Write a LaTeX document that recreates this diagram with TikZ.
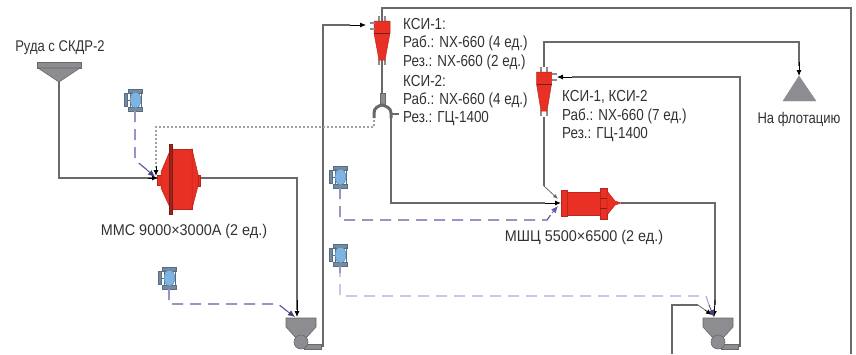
\documentclass[tikz,border=0pt]{standalone}
\usepackage{fontspec}
\setmainfont[FakeStretch=0.84]{Liberation Sans}
\newfontfamily\widefont[FakeStretch=0.93]{Liberation Sans}
\usetikzlibrary{arrows.meta}
\definecolor{pipe}{RGB}{105,105,108}
\definecolor{millred}{RGB}{232,48,36}
\definecolor{milledge}{RGB}{120,30,25}
\definecolor{hoppergray}{RGB}{140,140,145}
\definecolor{dotgray}{RGB}{160,160,163}
\definecolor{valveblue}{RGB}{125,180,225}
\definecolor{valvesteel}{RGB}{85,110,135}
\definecolor{waterblue}{RGB}{95,90,170}
\definecolor{waterpale}{RGB}{175,170,218}
\definecolor{labelgray}{RGB}{50,50,50}
\tikzset{
  pipeline/.style={draw=pipe, line width=1.4pt},
  thinline/.style={draw=pipe, line width=0.8pt},
  tipline/.style={black, line width=0.8pt, -{Latex[length=6pt,width=5pt]}},
  waterline/.style={draw=waterblue, line width=1.2pt, dash pattern=on 11pt off 7pt},
  paleline/.style={waterline, draw=waterpale},
  watertip/.style={draw=waterblue!70!black, line width=0.8pt, -{Latex[length=7pt,width=6pt]}},
  dotline/.style={draw=dotgray, line width=2pt, dash pattern=on 1.8pt off 2.2pt},
  redpart/.style={fill=millred, draw=millred!80!black, line width=0.5pt},
  graypart/.style={fill=hoppergray, draw=pipe, line width=0.6pt},
  label/.style={text=labelgray, font=\fontsize{15.5}{17}\selectfont, inner sep=0pt},
  widelabel/.style={label, font=\widefont\fontsize{15.5}{17}\selectfont},
  textline/.style={label, font=\fontsize{16}{17}\selectfont, anchor=west}
}
\begin{document}
\begin{tikzpicture}[x=1pt, y=-1pt]
\useasboundingbox (0, 0) rectangle (856, 354);
% ports of the equipment
\coordinate (ore) at (59, 82);
\coordinate (millin) at (158, 178);
\coordinate (millout) at (200, 178);
\coordinate (pumpa) at (297, 317);
\coordinate (pumpaout) at (323, 347);
\coordinate (cycin) at (366, 25);
\coordinate (cycover) at (382, 21);
\coordinate (cycspig) at (382, 60);
\coordinate (cycunder) at (382, 95);
\coordinate (splitl) at (374, 118);
\coordinate (splitr) at (391, 118);
\coordinate (ballin) at (561, 203);
\coordinate (ballout) at (621, 203);
\coordinate (cyctop) at (544, 67);
\coordinate (cycfeed) at (557, 77);
\coordinate (cycbot) at (544, 117);
\coordinate (pumpb) at (714, 317);
\coordinate (pumpbout) at (740, 347);
\coordinate (flot) at (799, 76);
% lines
\draw[pipeline] (ore) -- (59, 178) -- (millin);
\draw[tipline, line width=1pt] (148, 178) -- (millin);
\draw[pipeline] (millout) -- (297, 178) -- (297, 310);
\draw[tipline] (297, 300) -- (pumpa);
\draw[pipeline] (pumpaout) -- (323, 25) -- (350, 25);
\draw[tipline] (350, 25) -- (cycin);
\draw[pipeline] (cycover) -- (382, 8) -- (851, 8) -- (851, 354);
\draw[pipeline] (cycspig) -- (cycunder);
\draw[pipeline] (splitr) -- (391, 203) -- (545, 203);
\draw[tipline, line width=1pt] (545, 203) -- (ballin);
\draw[pipeline] (cycbot) -- (544, 186);
\draw[thinline, -{Latex[length=5pt,width=4pt]}] (544, 186) -- (558, 199);
\draw[pipeline] (ballout) -- (715, 203) -- (715, 305);
\draw[tipline] (715, 300) -- (pumpb);
\draw[pipeline] (672, 354) -- (672, 305) -- (698, 305);
\draw[thinline] (698, 305) -- (705, 310);
\draw[tipline] (705, 310) -- (712, 315);
\draw[pipeline] (pumpbout) -- (740, 77) -- (572, 77);
\draw[tipline] (572, 77) -- (cycfeed);
\draw[pipeline] (cyctop) -- (544, 42) -- (799, 42) -- (799, 66);
\draw[tipline] (799, 62) -- (flot);
\draw[dotline] (374, 120) -- (374, 127) -- (156, 127) -- (156, 171);
\draw[tipline, line width=1pt] (156, 166) -- (156, 176);
% water from the valves
\draw[waterline] (135, 111) -- (135, 160) -- (146, 169);
\draw[watertip] (146, 169) -- (155, 177);
\draw[waterline] (169, 289) -- (169, 304) -- (278, 304) -- (287, 311);
\draw[watertip] (287, 311) -- (295, 317);
\draw[waterline] (340, 188) -- (340, 220) -- (547, 220) -- (552, 213);
\draw[watertip, draw=waterblue] (552, 213) -- (558, 206);
\draw[paleline] (340, 266) -- (340, 296) -- (706, 296) -- (709, 305);
\draw[watertip] (709, 305) -- (714, 317);
% ball mill for ore
\draw[redpart] (157, 175) rectangle (161, 185);
\draw[redpart] (161, 172) -- (172, 146) -- (172, 212) -- (161, 188) -- cycle;
\draw[redpart] (172, 149) rectangle (192, 209);
\draw[redpart] (192, 149) -- (198, 174) -- (198, 186) -- (192, 209) -- cycle;
\draw[redpart] (198, 175) rectangle (200, 186);
\draw[fill=millred!70!black, draw=milledge, line width=0.4pt] (169, 144) rectangle (172, 214);
% ball mill for the second stage
\draw[redpart] (561, 190) rectangle (567, 216);
\draw[redpart] (567, 192) rectangle (600, 215);
\draw[redpart] (600, 188) rectangle (607, 219);
\draw[millred!60!black, line width=0.5pt] (600, 198) -- (607, 198);
\draw[millred!60!black, line width=0.5pt] (600, 208) -- (607, 208);
\draw[redpart] (607, 191) -- (615, 201) -- (621, 203) -- (615, 205) -- (607, 215) -- cycle;
% cyclones
\foreach \cx/\cy/\wid in {382/21/8, 544/72/7.5}{
  \draw[hoppergray, line width=1.2pt] (\cx-3, \cy-5) -- (\cx-3, \cy);
  \draw[hoppergray, line width=1.2pt] (\cx+3, \cy-5) -- (\cx+3, \cy);
  \draw[hoppergray, line width=1.2pt] (\cx-3, \cy+38) -- (\cx-3, \cy+44);
  \draw[hoppergray, line width=1.2pt] (\cx+3, \cy+38) -- (\cx+3, \cy+44);
  \draw[redpart] (\cx-\wid, \cy) -- (\cx+\wid, \cy) -- (\cx+\wid, \cy+12) -- (\cx+3, \cy+39) -- (\cx-3, \cy+39) -- (\cx-\wid, \cy+12) -- cycle;
  \draw[milledge, line width=0.8pt] (\cx-\wid, \cy+12) -- (\cx+\wid, \cy+12);
}
\draw[hoppergray, line width=1.2pt] (370, 23) -- (375, 23);
\draw[hoppergray, line width=1.2pt] (370, 29) -- (375, 29);
\draw[hoppergray, line width=1.2pt] (552, 74) -- (557, 74);
\draw[hoppergray, line width=1.2pt] (552, 80) -- (557, 80);
% splitter
\draw[graypart] (380, 93) rectangle (385, 105);
\draw[pipe, line width=3pt] (374, 118) -- (374, 113) .. controls (374, 108) and (378, 106) .. (382, 105) .. controls (386, 106) and (391, 108) .. (391, 113) -- (391, 118);
\draw[pipe, line width=1.2pt] (392, 114) -- (399, 114);
% sump pumps
\foreach \px/\cx in {286/301, 703/718}{
  \draw[graypart] (\px+18, 344) rectangle (\px+35, 349);
  \draw[graypart] (\px, 318) -- (\px+30, 318) -- (\px+30, 327) -- (\px+20, 338) -- (\px+10, 338) -- (\px, 327) -- cycle;
  \draw[graypart] (\cx, 342) circle (7);
}
% ore bin and flotation
\draw[graypart] (37, 62) rectangle (81, 68);
\draw[graypart] (38, 68) -- (80, 68) -- (59, 82) -- cycle;
\draw[fill=hoppergray, draw=hoppergray] (799, 76) -- (816, 101) -- (783, 101) -- cycle;
% valves
\foreach \vx/\vy in {135/100, 169/278, 340/177, 340/255}{
  \draw[valvesteel, line width=0.9pt] (\vx-8, \vy) -- (\vx, \vy);
  \draw[fill=valvesteel!80, draw=valvesteel, line width=0.3pt] (\vx-11, \vy-7) rectangle (\vx-8, \vy+6);
  \draw[fill=valvesteel!80, draw=valvesteel, line width=0.3pt] (\vx-6.5, \vy-11) rectangle (\vx+7.5, \vy-7);
  \draw[fill=valvesteel!80, draw=valvesteel, line width=0.3pt] (\vx-6.5, \vy+7) rectangle (\vx+7.5, \vy+11);
  \draw[valvesteel, line width=0.5pt] (\vx-5, \vy-8) -- (\vx-5, \vy+8);
  \draw[valvesteel, line width=0.5pt] (\vx+6, \vy-8) -- (\vx+6, \vy+8);
  \draw[fill=valveblue, draw=valvesteel, line width=0.3pt] (\vx+0.5, \vy) ellipse (5.5 and 8);
  \draw[waterpale!70!waterblue, line width=1.1pt] (\vx, \vy+11) -- (\vx, \vy+18);
}
% labels
\node[label] (orelabel) at (60, 48) {Руда с СКДР-2};
\node[widelabel] (milllabel) at (184, 231) {ММС 9000×3000А (2 ед.)};
\node[widelabel] (balllabel) at (584, 237) {МШЦ 5500×6500 (2 ед.)};
\node[label] (flotlabel) at (799, 119) {На флотацию};
\node[textline] (csa) at (403, 24) {КСИ-1:};
\node[textline] (csb) at (403, 43) {Раб.: NX-660 (4 ед.)};
\node[textline] (csc) at (403, 62) {Рез.: NX-660 (2 ед.)};
\node[textline] (csd) at (403, 81) {КСИ-2:};
\node[textline] (cse) at (403, 100) {Раб.: NX-660 (4 ед.)};
\node[textline] (csf) at (403, 119) {Рез.: ГЦ-1400};
\node[textline] (cta) at (562, 97) {КСИ-1, КСИ-2};
\node[textline] (ctb) at (562, 116) {Раб.: NX-660 (7 ед.)};
\node[textline] (ctc) at (562, 135) {Рез.: ГЦ-1400};
\end{tikzpicture}
\end{document}
